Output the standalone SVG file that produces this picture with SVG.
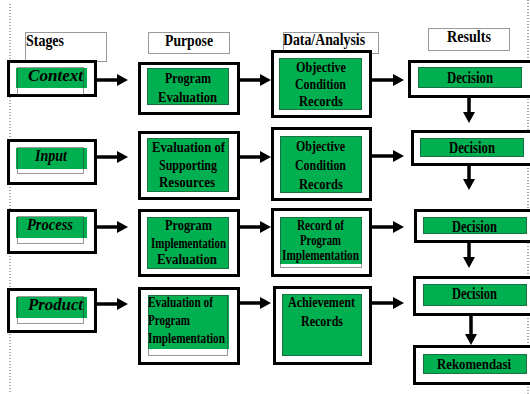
<svg xmlns="http://www.w3.org/2000/svg" width="530" height="394" viewBox="0 0 530 394">
<defs>
<style>
.bg{fill:#fff}
.ob{fill:#fff;stroke:#000;stroke-width:3}
.gr{fill:#00b050}
.dt{fill:none;stroke:#333;stroke-width:1;stroke-dasharray:1 1}
.vl{fill:none;stroke:#555;stroke-width:1;stroke-dasharray:1 2}
.t{font-family:"Liberation Serif","Times New Roman",serif;font-weight:bold;fill:#000}
.h{font-size:17px}
.b{font-size:15px}
.d{font-size:17px}
.r{font-size:15px}
.s{font-size:17px;font-style:italic}
.ar{fill:none;stroke:#000;stroke-width:3.5}
</style>
<marker id="ah" markerUnits="userSpaceOnUse" viewBox="0 0 11 12" refX="2" refY="6" markerWidth="11" markerHeight="12" orient="auto">
<path d="M0,0 L11,6 L0,12 z" fill="#000"/>
</marker>
</defs>
<rect class="bg" x="0" y="0" width="530" height="394"/>
<line class="vl" x1="10" y1="4" x2="10" y2="394"/>
<line class="vl" x1="528" y1="0" x2="528" y2="394"/>

<g id="headers">
<rect class="dt" x="25.5" y="32.5" width="81" height="29"/>
<text class="t h" x="26" y="46" textLength="38" lengthAdjust="spacingAndGlyphs">Stages</text>
<rect class="dt" x="148.5" y="32.5" width="81" height="21"/>
<text class="t h" x="165" y="46" textLength="48" lengthAdjust="spacingAndGlyphs">Purpose</text>
<rect class="dt" x="283.5" y="32.5" width="95" height="21"/>
<text class="t h" x="283" y="45" textLength="82" lengthAdjust="spacingAndGlyphs">Data/Analysis</text>
<rect class="dt" x="428.5" y="28.5" width="81" height="22"/>
<text class="t h" x="447" y="42" textLength="44" lengthAdjust="spacingAndGlyphs">Results</text>
</g>

<g id="context">
<rect class="ob" x="8.5" y="61.5" width="87" height="34"/>
<rect class="gr" x="16" y="68" width="71" height="20"/>
<rect class="dt" x="17.5" y="67.5" width="66" height="27"/>
<text class="t s" x="28" y="81" textLength="55" lengthAdjust="spacingAndGlyphs">Context</text>
</g>
<g id="program-evaluation">
<rect class="ob" x="139.5" y="63.5" width="99" height="50"/>
<rect class="gr" x="147" y="68" width="82" height="37"/>
<rect class="dt" x="147.5" y="68.5" width="81" height="36"/>
<text class="t b" x="165" y="83" textLength="46" lengthAdjust="spacingAndGlyphs">Program</text>
<text class="t b" x="158" y="102" textLength="59" lengthAdjust="spacingAndGlyphs">Evaluation</text>
</g>
<g id="ocr-1">
<rect class="ob" x="272.5" y="51.5" width="98" height="65"/>
<rect class="gr" x="279" y="58" width="83" height="52"/>
<rect class="dt" x="279.5" y="58.5" width="82" height="51"/>
<text class="t b" x="296" y="72" textLength="50" lengthAdjust="spacingAndGlyphs">Objective</text>
<text class="t b" x="295" y="89" textLength="51" lengthAdjust="spacingAndGlyphs">Condition</text>
<text class="t b" x="299" y="106" textLength="44" lengthAdjust="spacingAndGlyphs">Records</text>
</g>
<g id="decision-1">
<rect class="ob" x="409.5" y="61.5" width="130" height="35"/>
<rect class="gr" x="418" y="67" width="104" height="21"/>
<rect class="dt" x="418.5" y="67.5" width="103" height="20"/>
<text class="t d" x="447" y="83" textLength="46" lengthAdjust="spacingAndGlyphs">Decision</text>
</g>

<g id="input">
<rect class="ob" x="8.5" y="140.5" width="87" height="43"/>
<rect class="gr" x="16" y="148" width="71" height="21"/>
<rect class="dt" x="17.5" y="147.5" width="66" height="26"/>
<text class="t s" x="35" y="161" textLength="32" lengthAdjust="spacingAndGlyphs">Input</text>
</g>
<g id="supporting-resources">
<rect class="ob" x="139.5" y="132.5" width="99" height="66"/>
<rect class="gr" x="147" y="138" width="82" height="54"/>
<rect class="dt" x="147.5" y="138.5" width="81" height="53"/>
<text class="t b" x="152" y="152" textLength="73" lengthAdjust="spacingAndGlyphs">Evaluation of</text>
<text class="t b" x="159" y="170" textLength="58" lengthAdjust="spacingAndGlyphs">Supporting</text>
<text class="t b" x="159" y="187" textLength="56" lengthAdjust="spacingAndGlyphs">Resources</text>
</g>
<g id="ocr-2">
<rect class="ob" x="272.5" y="128.5" width="98" height="71"/>
<rect class="gr" x="280" y="136" width="82" height="57"/>
<rect class="dt" x="280.5" y="136.5" width="81" height="56"/>
<text class="t b" x="296" y="151" textLength="49" lengthAdjust="spacingAndGlyphs">Objective</text>
<text class="t b" x="295" y="170" textLength="51" lengthAdjust="spacingAndGlyphs">Condition</text>
<text class="t b" x="299" y="189" textLength="44" lengthAdjust="spacingAndGlyphs">Records</text>
</g>
<g id="decision-2">
<rect class="ob" x="412.5" y="131.5" width="130" height="33"/>
<rect class="gr" x="420" y="138" width="104" height="19"/>
<rect class="dt" x="420.5" y="138.5" width="103" height="18"/>
<text class="t d" x="449" y="153" textLength="46" lengthAdjust="spacingAndGlyphs">Decision</text>
</g>

<g id="process">
<rect class="ob" x="8.5" y="210.5" width="87" height="42"/>
<rect class="gr" x="16" y="217" width="71" height="21"/>
<rect class="dt" x="17.5" y="216.5" width="66" height="27"/>
<text class="t s" x="27" y="230" textLength="46" lengthAdjust="spacingAndGlyphs">Process</text>
</g>
<g id="implementation-evaluation">
<rect class="ob" x="139.5" y="210.5" width="99" height="65"/>
<rect class="gr" x="147" y="217" width="82" height="52"/>
<rect class="dt" x="147.5" y="217.5" width="81" height="51"/>
<text class="t b" x="165" y="230" textLength="47" lengthAdjust="spacingAndGlyphs">Program</text>
<text class="t b" x="151" y="248" textLength="75" lengthAdjust="spacingAndGlyphs">Implementation</text>
<text class="t b" x="157" y="264" textLength="60" lengthAdjust="spacingAndGlyphs">Evaluation</text>
</g>
<g id="implementation-record">
<rect class="ob" x="272.5" y="209.5" width="98" height="66"/>
<rect class="gr" x="280" y="217" width="82" height="47"/>
<rect class="dt" x="280.5" y="217.5" width="81" height="50"/>
<text class="t b" x="297" y="230" textLength="47" lengthAdjust="spacingAndGlyphs">Record of</text>
<text class="t b" x="300" y="245" textLength="41" lengthAdjust="spacingAndGlyphs">Program</text>
<text class="t b" x="282" y="260" textLength="77" lengthAdjust="spacingAndGlyphs">Implementation</text>
</g>
<g id="decision-3">
<rect class="ob" x="415.5" y="210.5" width="130" height="31"/>
<rect class="gr" x="423" y="217" width="104" height="17"/>
<rect class="dt" x="423.5" y="217.5" width="103" height="16"/>
<text class="t d" x="452" y="232" textLength="45" lengthAdjust="spacingAndGlyphs">Decision</text>
</g>

<g id="product">
<rect class="ob" x="8.5" y="289.5" width="87" height="42"/>
<rect class="gr" x="16" y="297" width="71" height="21"/>
<rect class="dt" x="17.5" y="296.5" width="66" height="27"/>
<text class="t s" x="28" y="310" textLength="55" lengthAdjust="spacingAndGlyphs">Product</text>
</g>
<g id="program-implementation">
<rect class="ob" x="139.5" y="288.5" width="99" height="75"/>
<rect class="gr" x="148" y="295" width="81" height="54"/>
<rect class="dt" x="148.5" y="295.5" width="79" height="60"/>
<text class="t b" x="148" y="307" textLength="65" lengthAdjust="spacingAndGlyphs">Evaluation of</text>
<text class="t b" x="148" y="325" textLength="42" lengthAdjust="spacingAndGlyphs">Program</text>
<text class="t b" x="148" y="343" textLength="77" lengthAdjust="spacingAndGlyphs">Implementation</text>
</g>
<g id="achievement-records">
<rect class="ob" x="274.5" y="287.5" width="96" height="76"/>
<rect class="gr" x="282" y="294" width="80" height="62"/>
<rect class="dt" x="282.5" y="294.5" width="79" height="61"/>
<text class="t b" x="288" y="307" textLength="67" lengthAdjust="spacingAndGlyphs">Achievement</text>
<text class="t b" x="301" y="326" textLength="42" lengthAdjust="spacingAndGlyphs">Records</text>
</g>
<g id="decision-4">
<rect class="ob" x="414.5" y="277.5" width="130" height="37"/>
<rect class="gr" x="423" y="284" width="104" height="22"/>
<rect class="dt" x="423.5" y="284.5" width="103" height="21"/>
<text class="t d" x="452" y="299" textLength="45" lengthAdjust="spacingAndGlyphs">Decision</text>
</g>
<g id="rekomendasi">
<rect class="ob" x="414.5" y="346.5" width="130" height="37"/>
<rect class="gr" x="423" y="354" width="104" height="20"/>
<rect class="dt" x="423.5" y="354.5" width="103" height="19"/>
<text class="t r" x="437" y="369" textLength="74" lengthAdjust="spacingAndGlyphs">Rekomendasi</text>
</g>

<g id="connectors">
<line class="ar" x1="97" y1="80" x2="119" y2="80" marker-end="url(#ah)"/>
<line class="ar" x1="240" y1="80" x2="262" y2="80" marker-end="url(#ah)"/>
<line class="ar" x1="372" y1="80" x2="395" y2="80" marker-end="url(#ah)"/>
<line class="ar" x1="97" y1="157" x2="119" y2="157" marker-end="url(#ah)"/>
<line class="ar" x1="240" y1="157" x2="262" y2="157" marker-end="url(#ah)"/>
<line class="ar" x1="372" y1="156" x2="395" y2="156" marker-end="url(#ah)"/>
<line class="ar" x1="97" y1="227" x2="119" y2="227" marker-end="url(#ah)"/>
<line class="ar" x1="240" y1="227" x2="262" y2="227" marker-end="url(#ah)"/>
<line class="ar" x1="372" y1="227" x2="395" y2="227" marker-end="url(#ah)"/>
<line class="ar" x1="97" y1="304" x2="119" y2="304" marker-end="url(#ah)"/>
<line class="ar" x1="240" y1="303" x2="262" y2="303" marker-end="url(#ah)"/>
<line class="ar" x1="372" y1="303" x2="395" y2="303" marker-end="url(#ah)"/>
<line class="ar" x1="469" y1="98" x2="469" y2="114" marker-end="url(#ah)"/>
<line class="ar" x1="469" y1="166" x2="469" y2="181" marker-end="url(#ah)"/>
<line class="ar" x1="469" y1="243" x2="469" y2="259" marker-end="url(#ah)"/>
<line class="ar" x1="471" y1="316" x2="471" y2="336" marker-end="url(#ah)"/>
</g>
</svg>
